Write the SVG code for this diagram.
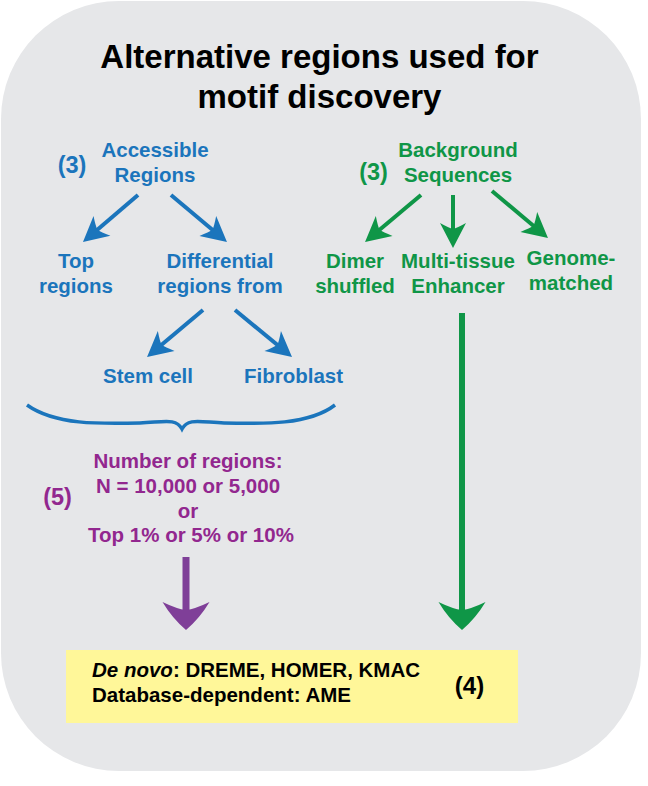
<svg xmlns="http://www.w3.org/2000/svg" width="648" height="786" viewBox="0 0 648 786">
<style>
text{font-family:"Liberation Sans",Arial,Helvetica,sans-serif;font-weight:bold}
.t{font-size:33px;fill:#000;text-anchor:middle}
.b{fill:#1b75bc;font-size:20.5px;text-anchor:middle}
.g{fill:#0f9647;font-size:20.5px;text-anchor:middle}
.p{fill:#92278f;font-size:20.5px;text-anchor:middle}
.k{fill:#000;font-size:20.5px}
.n{font-size:23.5px}
.k4{fill:#000;font-size:24px;text-anchor:middle}
.ab{stroke:#1b75bc;stroke-width:4;fill:none;marker-end:url(#hb)}
.ag{stroke:#0f9647;stroke-width:4;fill:none;marker-end:url(#hg)}
</style>
<defs>
<marker id="hb" markerUnits="userSpaceOnUse" viewBox="-30 -15 32 30" markerWidth="32" markerHeight="30" refX="-7" refY="0" orient="auto">
<path d="M0,0 L-25,-13 Q-20,-4 -19,0 Q-20,4 -25,13 Z" fill="#1b75bc"/>
</marker>
<marker id="hg" markerUnits="userSpaceOnUse" viewBox="-30 -15 32 30" markerWidth="32" markerHeight="30" refX="-7" refY="0" orient="auto">
<path d="M0,0 L-25,-13 Q-20,-4 -19,0 Q-20,4 -25,13 Z" fill="#0f9647"/>
</marker>
<marker id="hG" markerUnits="userSpaceOnUse" viewBox="-32 -26 34 52" markerWidth="34" markerHeight="52" refX="-8" refY="0" orient="auto">
<path d="M0,0 Q-12,-14 -28,-23.5 Q-21,-9 -20,0 Q-21,9 -28,23.5 Q-12,14 0,0 Z" fill="#0f9647"/>
</marker>
<marker id="hP" markerUnits="userSpaceOnUse" viewBox="-32 -26 34 52" markerWidth="34" markerHeight="52" refX="-8" refY="0" orient="auto">
<path d="M0,0 Q-12,-14 -28,-23.5 Q-21,-9 -20,0 Q-21,9 -28,23.5 Q-12,14 0,0 Z" fill="#7f3f98"/>
</marker>
</defs>
<rect id="panel" x="1" y="1" width="640" height="770" rx="118" ry="118" fill="#e6e7e9"/>
<g id="title">
<text class="t" x="319.5" y="68">Alternative regions used for</text>
<text class="t" x="319.5" y="108">motif discovery</text>
</g>
<g id="accessible">
<text class="b" x="155" y="157">Accessible</text>
<text class="b" x="155" y="182">Regions</text>
<text class="b n" x="72" y="173">(3)</text>
</g>
<g id="top-regions">
<text class="b" x="76" y="268">Top</text>
<text class="b" x="76" y="293">regions</text>
</g>
<g id="differential">
<text class="b" x="220" y="268">Differential</text>
<text class="b" x="220" y="293">regions from</text>
</g>
<g id="stem-cell"><text class="b" x="148" y="383">Stem cell</text></g>
<g id="fibroblast"><text class="b" x="293.5" y="383">Fibroblast</text></g>
<g id="background">
<text class="g" x="458" y="157">Background</text>
<text class="g" x="458" y="182">Sequences</text>
<text class="g n" x="373.5" y="180">(3)</text>
</g>
<g id="dimer">
<text class="g" x="355" y="268">Dimer</text>
<text class="g" x="355" y="293">shuffled</text>
</g>
<g id="multi-tissue">
<text class="g" x="458" y="268">Multi-tissue</text>
<text class="g" x="458" y="293">Enhancer</text>
</g>
<g id="genome">
<text class="g" x="571" y="265">Genome-</text>
<text class="g" x="571" y="290">matched</text>
</g>
<g id="number">
<text class="p" x="188" y="468">Number of regions:</text>
<text class="p" x="188" y="493">N = 10,000 or 5,000</text>
<text class="p" x="188" y="518">or</text>
<text class="p" x="191" y="542">Top 1% or 5% or 10%</text>
<text class="p n" x="57.5" y="505">(5)</text>
</g>
<g id="tools">
<rect x="66" y="650" width="452" height="73" fill="#fff799"/>
<text class="k" x="92" y="677"><tspan font-style="italic">De novo</tspan>: DREME, HOMER, KMAC</text>
<text class="k" x="92" y="702">Database-dependent: AME</text>
<text class="k4" x="469.5" y="694">(4)</text>
</g>
<g id="connectors">
<path d="M27,405 C55,425 100,424 140,423 C165,422 176,418 182,429 C188,418 199,422 224,423 C264,424 309,425 335,405" fill="none" stroke="#1b75bc" stroke-width="3.5"/>
<line class="ab" x1="138" y1="195" x2="88.3" y2="237.5"/>
<line class="ab" x1="171" y1="195" x2="221.6" y2="237.5"/>
<line class="ab" x1="203" y1="310" x2="152.4" y2="352.5"/>
<line class="ab" x1="235" y1="310" x2="286.6" y2="352.5"/>
<line class="ag" x1="421" y1="195" x2="370.4" y2="237.5"/>
<line class="ag" x1="453" y1="195" x2="453" y2="241"/>
<line class="ag" x1="492" y1="191" x2="542.6" y2="233.5"/>
<line x1="462" y1="313" x2="462" y2="622" stroke="#0f9647" stroke-width="6" marker-end="url(#hG)"/>
<line x1="186" y1="557" x2="186" y2="622" stroke="#7f3f98" stroke-width="7" marker-end="url(#hP)"/>
</g>
</svg>
